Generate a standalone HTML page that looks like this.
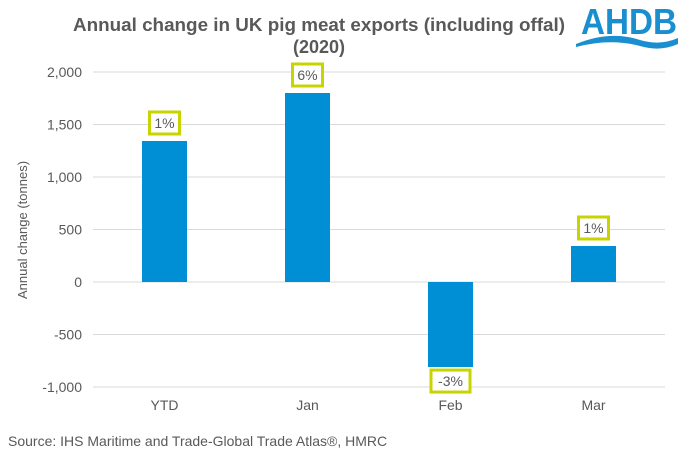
<!DOCTYPE html>
<html><head><meta charset="utf-8"><style>
body{margin:0;background:#fff;font-family:"Liberation Sans",Arial,sans-serif;}
svg text{font-family:"Liberation Sans",Arial,sans-serif;}
</style></head><body>
<svg id="c" width="680" height="454" xmlns="http://www.w3.org/2000/svg">
<text x="73" y="31" font-size="18" font-weight="bold" fill="#595959" textLength="492" lengthAdjust="spacingAndGlyphs">Annual change in UK pig meat exports (including offal)</text>
<text x="319" y="53" text-anchor="middle" font-size="18" font-weight="bold" fill="#595959">(2020)</text>
<g>
<text x="581" y="34" font-size="36" font-weight="bold" fill="#1a8fd0" textLength="96" lengthAdjust="spacingAndGlyphs">AHDB</text>
<path d="M576 44 Q610 30 640 40 Q660 46 678 38 L678 44 Q660 52 640 46 Q610 38 576 47 Z" fill="#1a8fd0"/>
</g>
<text transform="translate(27,230) rotate(-90)" text-anchor="middle" font-size="13" fill="#595959">Annual change (tonnes)</text>
<g id="grid"></g><g id="bars"></g>
<text x="8" y="446" font-size="14" fill="#595959">Source: IHS Maritime and Trade-Global Trade Atlas®, HMRC</text>
</svg>
<script>
const categories=["YTD","Jan","Feb","Mar"];
const values=[1343,1800,-810,343];
const pctLabels=["1%","6%","-3%","1%"];
const ticks=[-1000,-500,0,500,1000,1500,2000];
const tickLabels=["-1,000","-500","0","500","1,000","1,500","2,000"];
const NS="http://www.w3.org/2000/svg";
const x0=93,x1=665,y=v=>282-v*52.5/500;
const bw=(x1-x0)/categories.length;
const g=document.getElementById('grid'),b=document.getElementById('bars');
function mk(t,a,p){const e=document.createElementNS(NS,t);for(const k in a)e.setAttribute(k,a[k]);p.appendChild(e);return e;}
ticks.forEach((t,i)=>{
 const l=mk('line',{x1:x0,x2:x1,y1:y(t),y2:y(t),stroke:'#d9d9d9','stroke-width':1},g);
 
 
 const tx=mk('text',{x:82,y:y(t)+5,'text-anchor':'end','font-size':14,fill:'#595959'},g);
 tx.textContent=tickLabels[i];
 
 
});
categories.forEach((c,i)=>{
 const cx=x0+bw*(i+0.5),v=values[i];
 const r=mk('rect',{x:cx-22.5,width:45,y:Math.min(y(v),y(0)),height:Math.abs(y(v)-y(0)),fill:'#008fd5'},b);
 
 
 const tx=mk('text',{x:cx,y:410,'text-anchor':'middle','font-size':14,fill:'#595959'},b);
 tx.textContent=c;
 
 
 const w=pctLabels[i].length*9+12;
 const ly=v>=0?y(v)-18:y(v)+14;
 const bx=mk('rect',{x:cx-w/2,y:ly-11,width:w,height:22,fill:'#fff',stroke:'#c8d400','stroke-width':3},b);
 
 
 const lt=mk('text',{x:cx,y:ly+5,'text-anchor':'middle','font-size':14,fill:'#595959'},b);
 lt.textContent=pctLabels[i];
 
 
});
</script>
</body></html>
